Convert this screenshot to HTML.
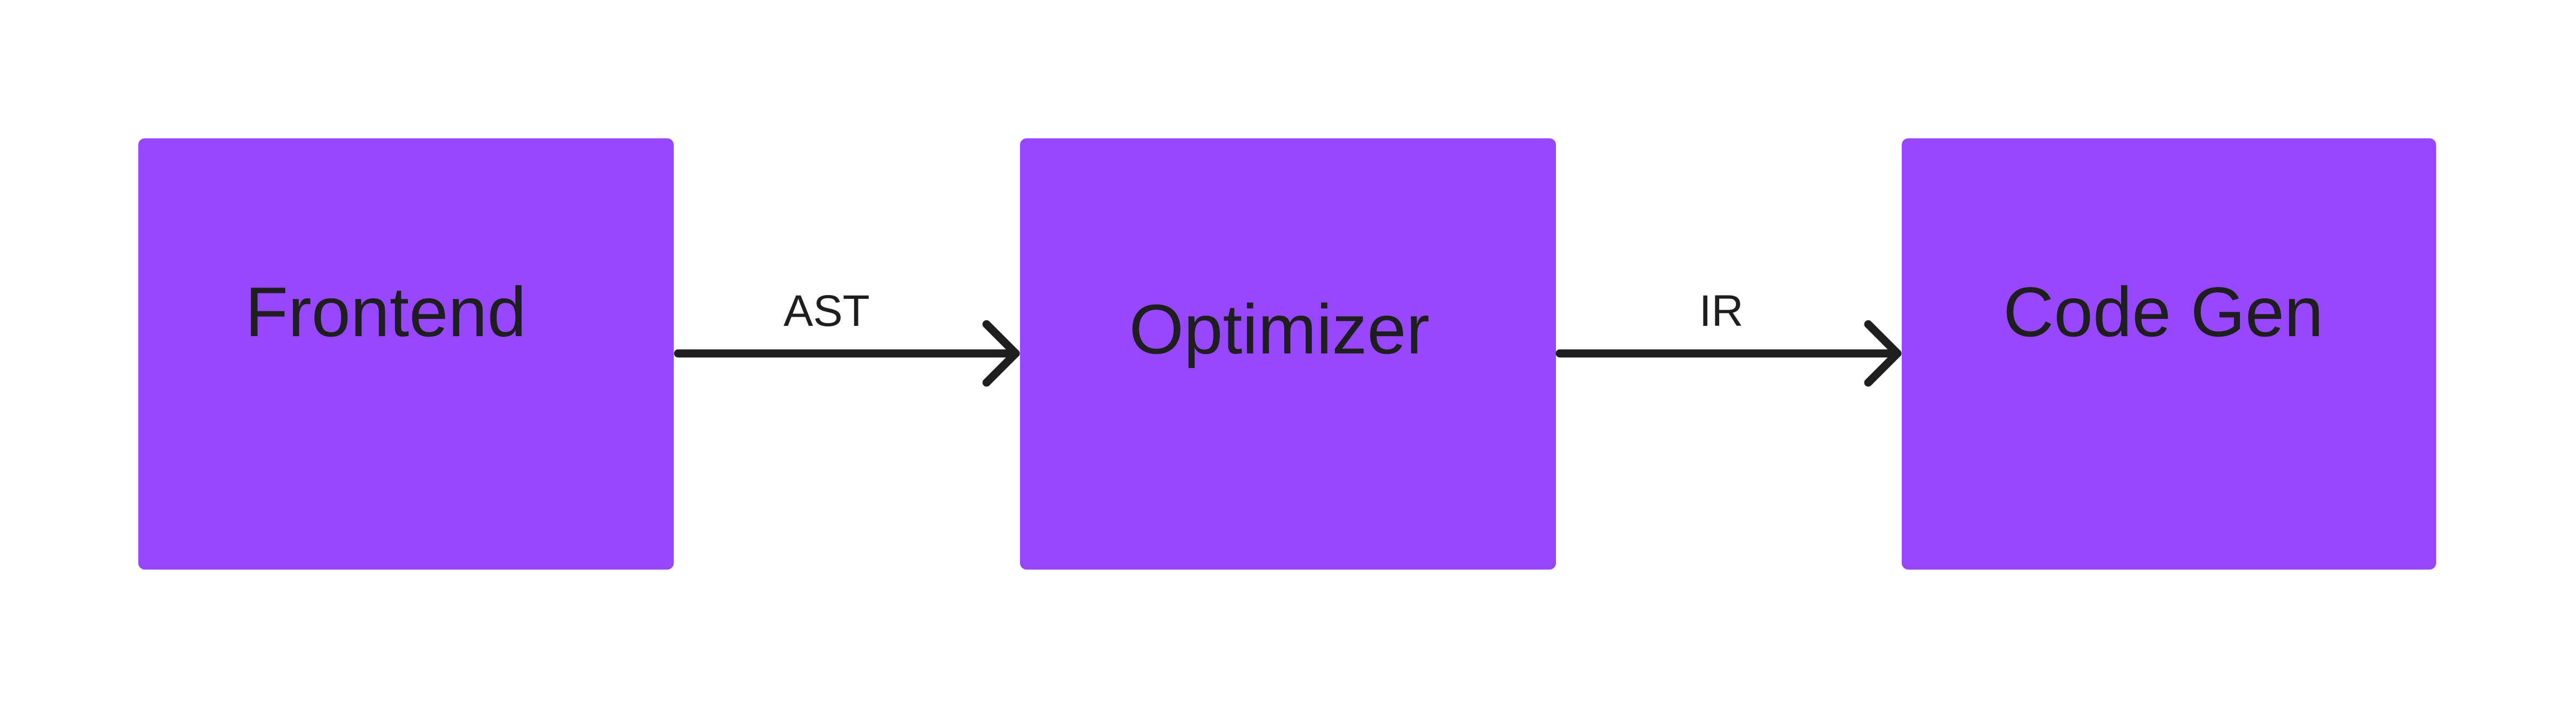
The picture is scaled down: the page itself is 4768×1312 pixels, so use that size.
<!DOCTYPE html>
<html><head><meta charset="utf-8"><style>
html,body{margin:0;padding:0;background:#fff;}
svg{display:block;}
</style></head><body>
<svg width="4768" height="1312" viewBox="0 0 4768 1312" xmlns="http://www.w3.org/2000/svg">
<rect width="4768" height="1312" fill="#ffffff"/>
<rect x="256" y="256" width="991" height="798" rx="12" fill="#9747ff"/>
<rect x="1888" y="256" width="992" height="798" rx="12" fill="#9747ff"/>
<rect x="3520" y="256" width="989" height="798" rx="12" fill="#9747ff"/>
<g stroke="#1e1e1e" stroke-width="15" stroke-linecap="round" stroke-linejoin="round" fill="none">
<line x1="1255" y1="654" x2="1880" y2="654"/>
<polyline points="1826,600 1880,654 1826,708"/>
<line x1="2887" y1="654" x2="3512" y2="654"/>
<polyline points="3458,600 3512,654 3458,708"/>
</g>
<g font-family="Liberation Sans, Arial, sans-serif" fill="#1e1e1e" text-anchor="middle">
<text x="714" y="622" font-size="130">Frontend</text>
<text x="2368" y="654" font-size="130">Optimizer</text>
<text x="4004" y="622" font-size="130">Code Gen</text>
<text x="1530" y="603" font-size="82">AST</text>
<text x="3186" y="603" font-size="82">IR</text>
</g>
</svg>
</body></html>
